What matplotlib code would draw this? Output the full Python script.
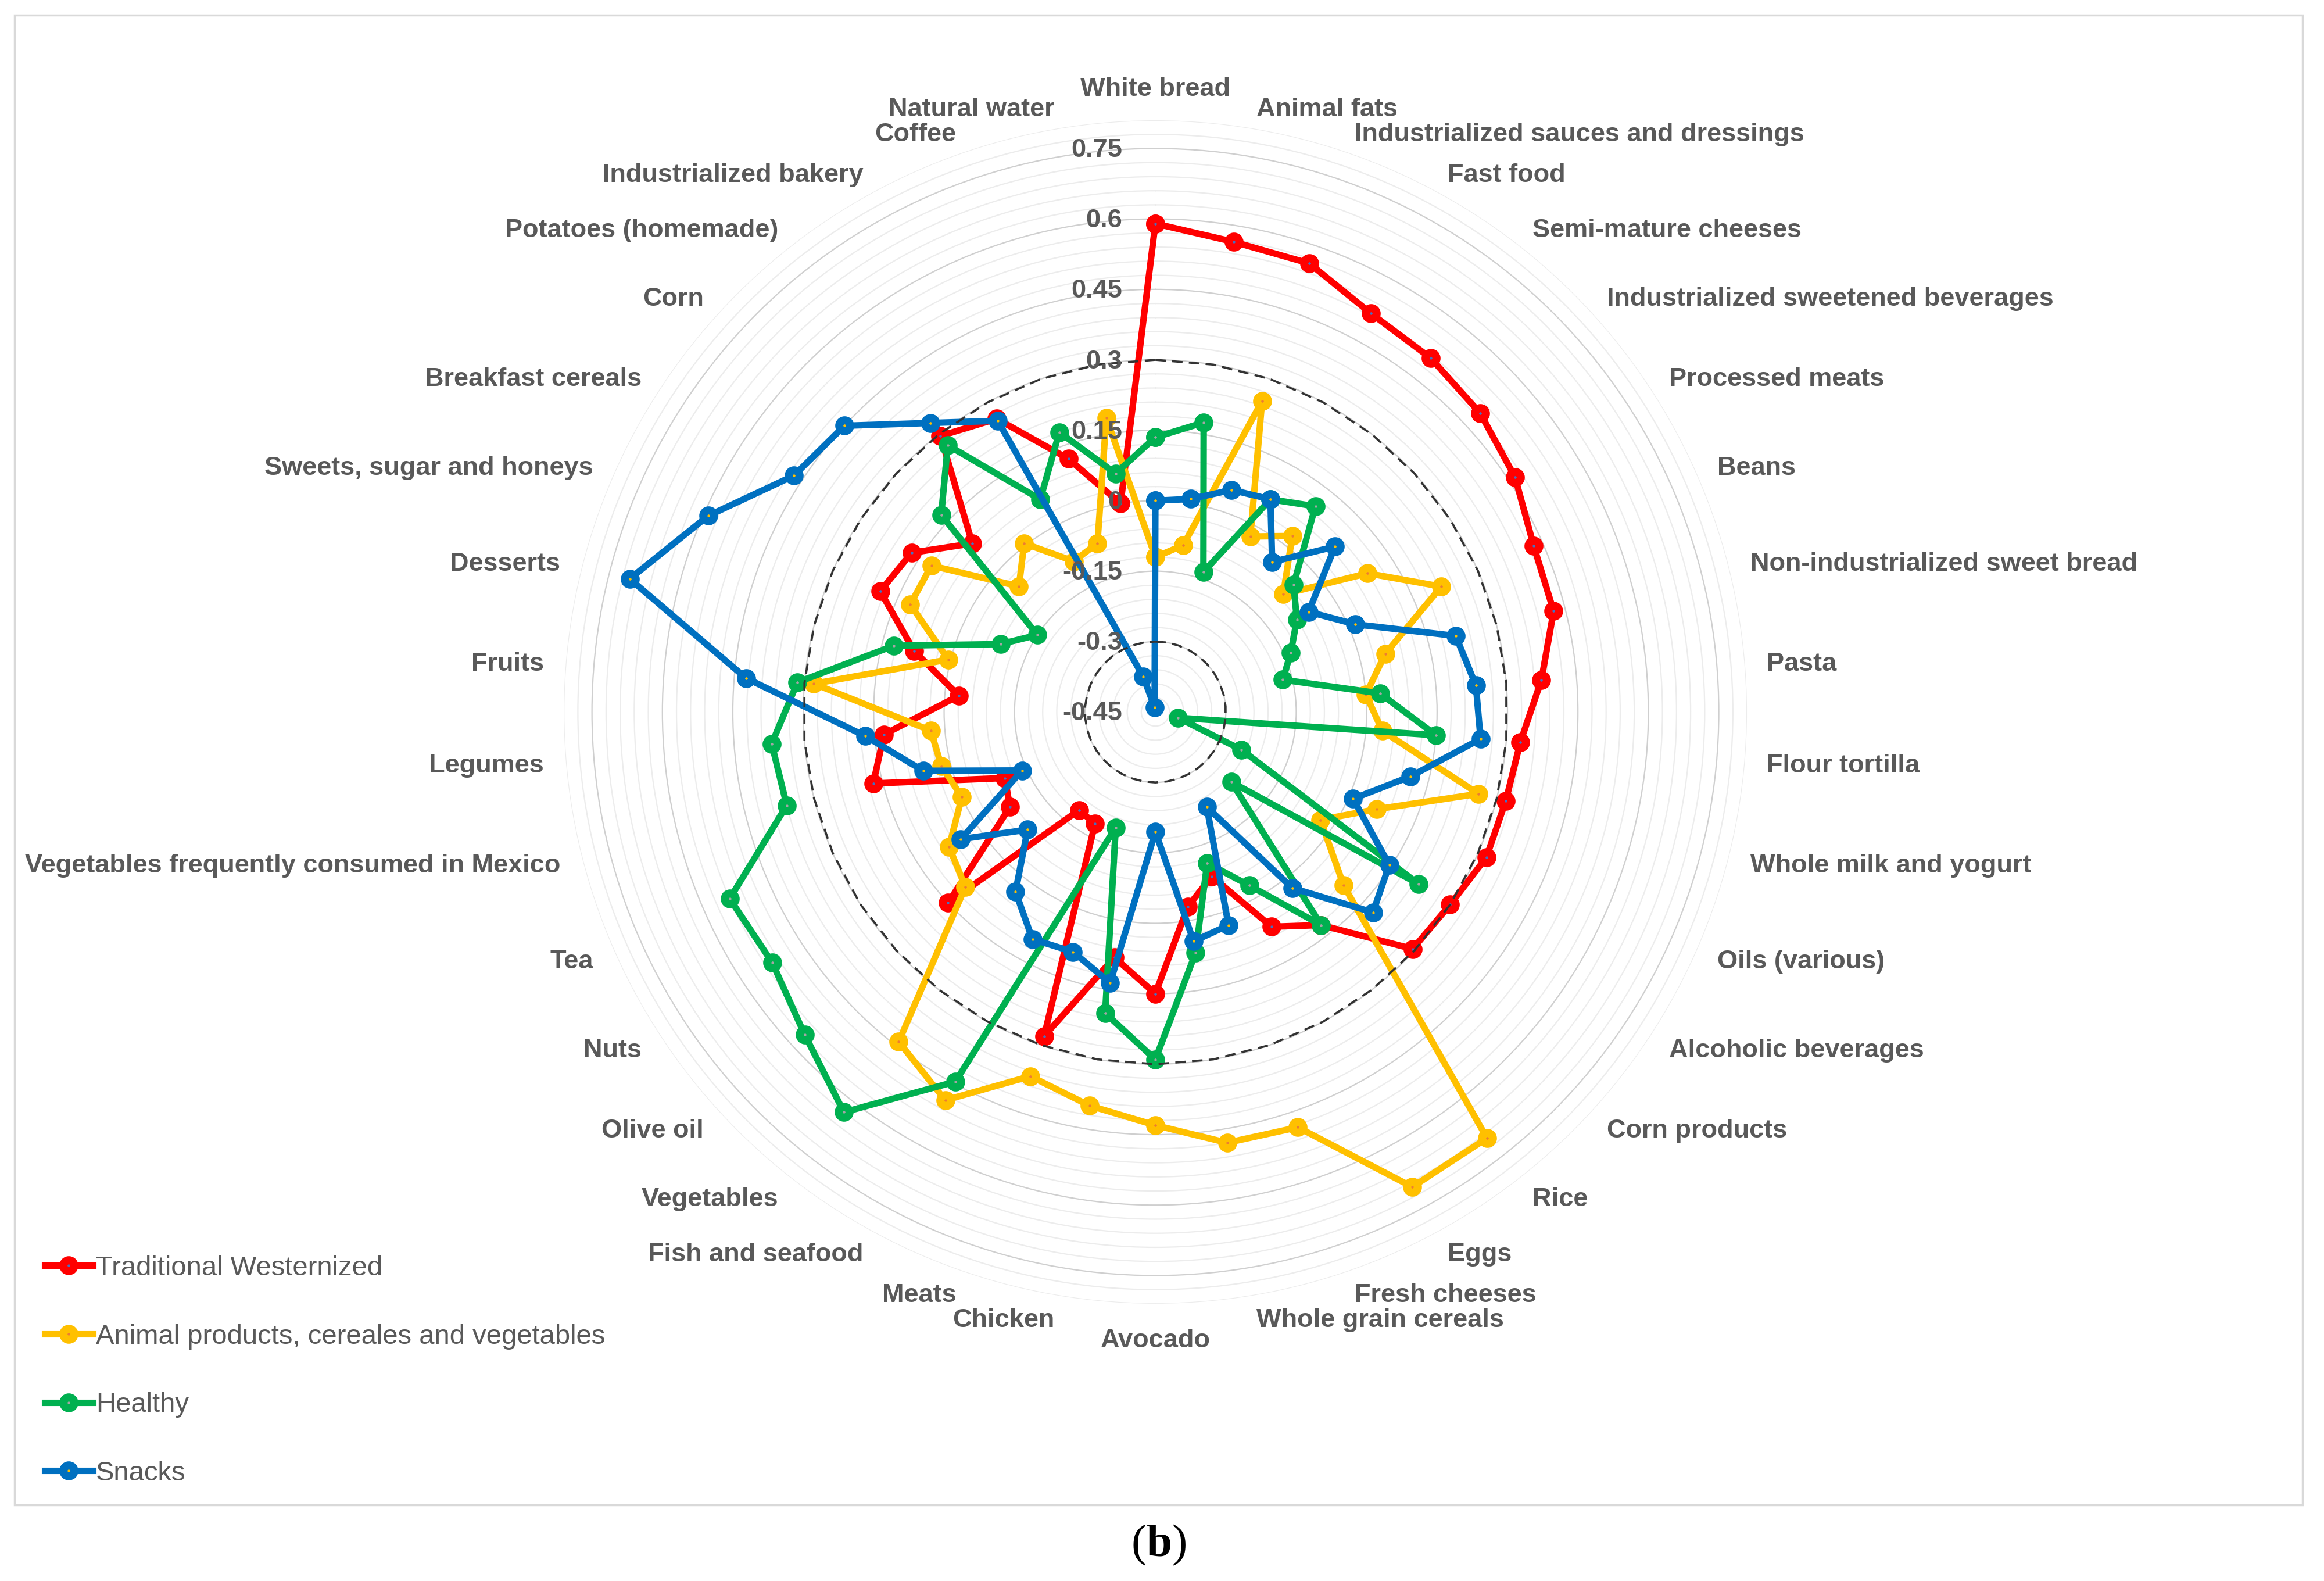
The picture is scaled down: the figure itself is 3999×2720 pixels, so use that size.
import matplotlib
matplotlib.use('Agg')
import matplotlib.pyplot as plt
import numpy as np
from matplotlib.patches import Rectangle

matplotlib.rcParams['font.family'] = ['Liberation Sans', 'DejaVu Sans']
matplotlib.rcParams['mathtext.fontset'] = 'custom'
matplotlib.rcParams['mathtext.rm'] = 'Liberation Serif'
matplotlib.rcParams['mathtext.bf'] = 'Liberation Serif:bold'

categories = ['White bread', 'Animal fats', 'Industrialized sauces and dressings', 'Fast food',
              'Semi-mature cheeses', 'Industrialized sweetened beverages', 'Processed meats', 'Beans',
              'Non-industrialized sweet bread', 'Pasta', 'Flour tortilla', 'Whole milk and yogurt',
              'Oils (various)', 'Alcoholic beverages', 'Corn products', 'Rice', 'Eggs', 'Fresh cheeses',
              'Whole grain cereals', 'Avocado', 'Chicken', 'Meats', 'Fish and seafood', 'Vegetables',
              'Olive oil', 'Nuts', 'Tea', 'Vegetables frequently consumed in Mexico', 'Legumes', 'Fruits',
              'Desserts', 'Sweets, sugar and honeys', 'Breakfast cereals', 'Corn', 'Potatoes (homemade)',
              'Industrialized bakery', 'Coffee', 'Natural water']

traditional = [0.59, 0.565, 0.56, 0.515, 0.505, 0.49, 0.465, 0.43, 0.425, 0.375, 0.33, 0.32,
               0.32, 0.30, 0.295, 0.125, 0.07, -0.08, -0.03, 0.15, 0.08, 0.28, -0.18, -0.185,
               0.15, -0.08, -0.10, 0.17, 0.13, -0.03, 0.08, 0.19, 0.17, 0.08, 0.295, 0.26, 0.12, 0.0]
animal = [-0.12, -0.09, 0.25, -0.025, 0.025, -0.08, 0.09, 0.215, 0.055, 0.0, 0.035, 0.26,
          0.065, -0.03, 0.095, 0.70, 0.70, 0.485, 0.48, 0.43, 0.40, 0.37, 0.49, 0.44,
          0.10, 0.075, 0.0, 0.02, 0.03, 0.28, 0.005, 0.12, 0.12, -0.055, 0.005, -0.085, -0.07, 0.185]
healthy = [0.135, 0.175, -0.135, 0.065, 0.105, -0.05, -0.09, -0.135, -0.17, 0.03, 0.15, -0.40,
           -0.25, 0.22, -0.23, 0.125, -0.03, -0.11, 0.07, 0.29, 0.20, -0.19, 0.445, 0.63,
           0.565, 0.525, 0.54, 0.36, 0.37, 0.315, 0.125, -0.09, -0.15, 0.17, 0.27, 0.065, 0.18, 0.065]
snacks = [0.0, 0.01, 0.05, 0.065, -0.045, 0.07, -0.06, 0.015, 0.21, 0.235, 0.245, 0.11,
          0.01, 0.145, 0.18, 0.025, -0.22, 0.03, 0.045, -0.195, 0.135, 0.09, 0.10, 0.035,
          -0.08, 0.045, -0.14, 0.06, 0.17, 0.425, 0.705, 0.59, 0.47, 0.45, 0.33, 0.255, -0.37, -0.44]

series_names = ['Traditional Westernized', 'Animal products, cereales and vegetables', 'Healthy', 'Snacks']
series_colors = ['#ff0000', '#ffc000', '#00b050', '#0070c0']
marker_centers = ['#4472c4', '#ed7d31', '#a5a5a5', '#ffc000']

tick_values = [-0.45, -0.3, -0.15, 0, 0.15, 0.3, 0.45, 0.6, 0.75]
tick_labels = ['-0.45', '-0.3', '-0.15', '0', '0.15', '0.3', '0.45', '0.6', '0.75']
thresholds = [0.3, -0.3]
r_min, r_max = -0.45, 0.81

label_color = '#595959'

fig = plt.figure(figsize=(39.99, 27.2), dpi=100)
ax = fig.add_axes([0.2426, 0.1754, 0.5091, 0.7485], projection='polar')
ax.set_theta_zero_location('N')
ax.set_theta_direction(-1)
ax.set_ylim(r_min, r_max)

n = len(categories)
theta = np.arange(n) * 2 * np.pi / n
theta_closed = np.append(theta, theta[0])

# grid: major every 0.15, minor every 0.03
ax.set_yticks(tick_values)
ax.set_yticks(np.round(np.arange(r_min, r_max + 0.001, 0.03), 2), minor=True)
ax.set_yticklabels([])
ax.yaxis.grid(True, which='major', color='#cfcfcf', lw=1.6)
ax.yaxis.grid(True, which='minor', color='#ececec', lw=1.6)
ax.tick_params(axis='y', which='both', length=0)
ax.set_xticks(theta)
ax.set_xticklabels([])
ax.xaxis.grid(False)
ax.spines['polar'].set_visible(False)

all_series = [traditional, animal, healthy, snacks]
for vals, name, col, face in zip(all_series, series_names, series_colors, marker_centers):
    v = np.append(vals, vals[0])
    ax.plot(theta_closed, v, color=col, lw=8, marker='o', ms=13.5, mew=10,
            mfc=face, mec=col, label=name, clip_on=False, zorder=3)

for t in thresholds:
    ax.plot(theta_closed, [t] * (n + 1), color='#333333', lw=2.6, ls=(0, (5, 3)), zorder=4)

# radial labels along the top spoke
for v, s in zip(tick_values, tick_labels):
    ax.annotate(s, xy=(0, v), xytext=(-57, -3), textcoords='offset pixels',
                ha='right', va='center', fontsize=32.5, fontweight='bold', color=label_color,
                zorder=5, annotation_clip=False)

# category labels
label_r = 0.857
for ang, name in zip(theta, categories):
    s, c = np.sin(ang), np.cos(ang)
    if s > 0.01:
        ha, va = 'left', 'center'
    elif s < -0.01:
        ha, va = 'right', 'center'
    else:
        ha, va = 'center', ('bottom' if c > 0 else 'top')
    ax.annotate(name, xy=(ang, label_r), xytext=(0, -5), textcoords='offset pixels',
                ha=ha, va=va, fontsize=32.5, fontweight='bold', color=label_color,
                annotation_clip=False)

handles, labels = ax.get_legend_handles_labels()
fig.legend(handles[:4], labels[:4], loc='upper left', bbox_to_anchor=(77 / 3999, 1 - 2160 / 2720),
           frameon=False, fontsize=34, handlelength=1.75, handletextpad=0.12, labelspacing=1.56,
           borderpad=0, borderaxespad=0, labelcolor=label_color)

fig.patches.append(Rectangle((0.00625, 0.0482), 0.9845, 0.9423, transform=fig.transFigure,
                             fill=False, ec='#d9d9d9', lw=2.5))

fig.text(1994 / 3999, 1 - 2658 / 2720, r'($\mathbf{b}$)', fontsize=57, family='Liberation Serif',
         ha='center', va='center')

fig.savefig('out.png', dpi=100)
